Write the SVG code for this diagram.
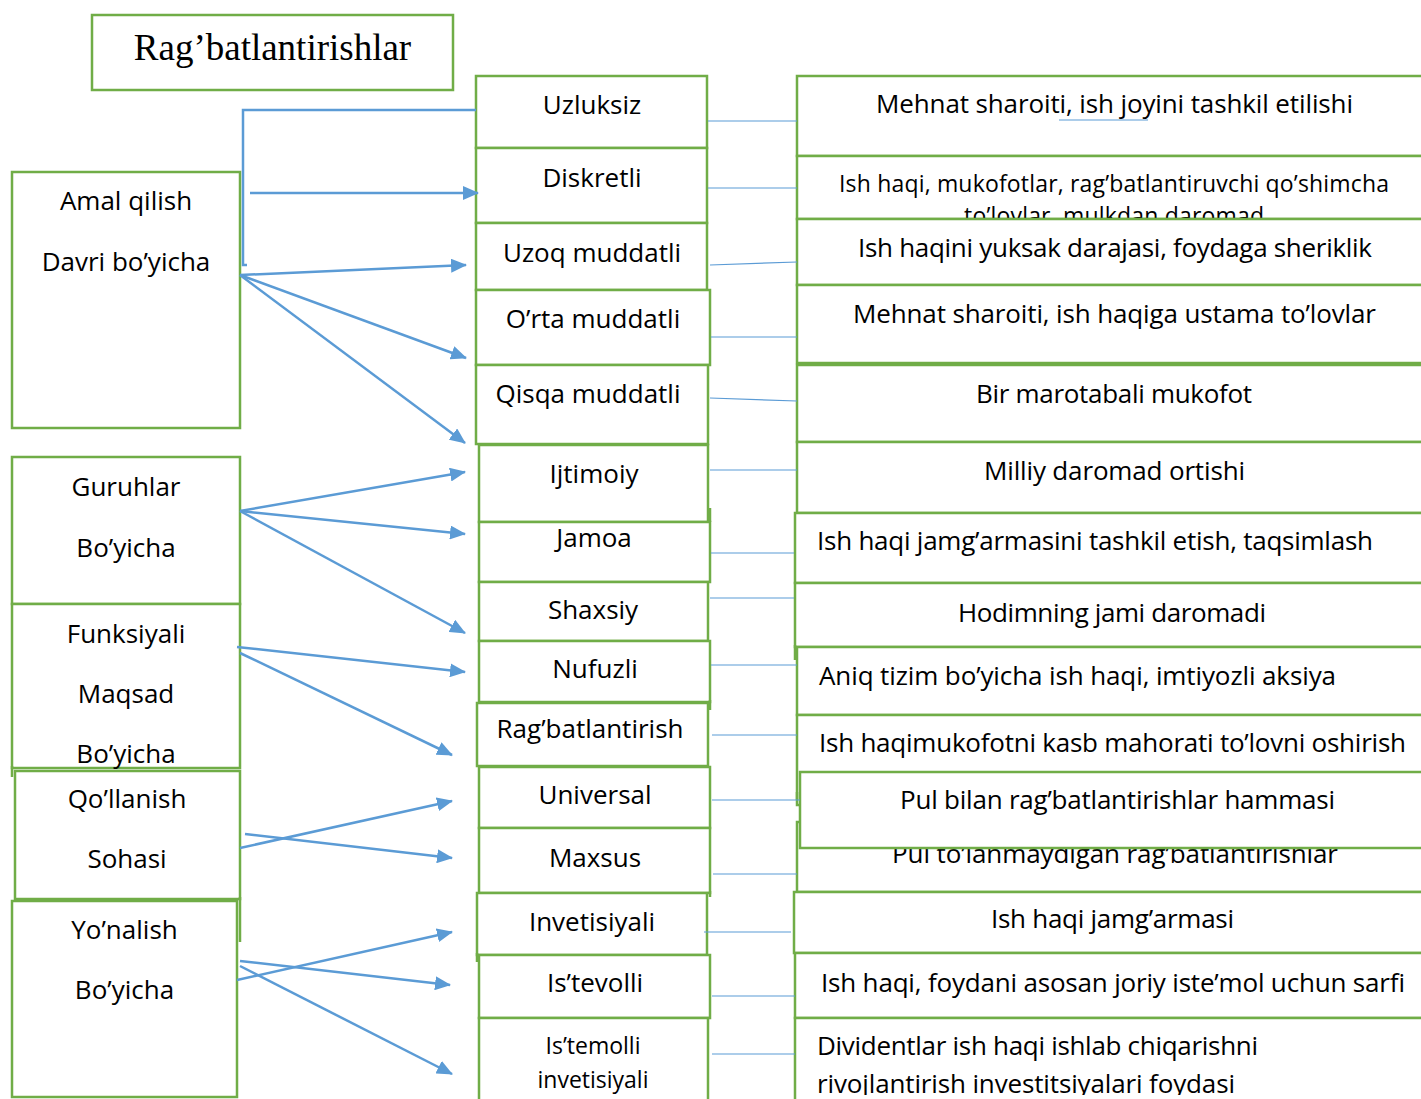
<svg xmlns="http://www.w3.org/2000/svg" width="1421" height="1099" viewBox="0 0 1421 1099">
<style>
.box{fill:#fff;stroke:#70ad47;stroke-width:2.5}
.ln{stroke:#70ad47;stroke-width:2.5;fill:none}
.t{font-family:"Open Sans","Liberation Sans",sans-serif;font-size:26px;fill:#000;text-anchor:middle}
.s{text-anchor:start}
.sm{font-size:23px}
.title{font-family:"Liberation Serif","Times New Roman",serif;font-size:37px;fill:#000;text-anchor:middle}
.arr{stroke:#5b9bd5;stroke-width:2.5;fill:none;marker-end:url(#ah)}
.br{stroke:#5b9bd5;stroke-width:2.5;fill:none}
.thin{stroke:#5b9bd5;stroke-width:1.2;fill:none}
</style>
<defs>
<marker id="ah" viewBox="0 0 16 14" refX="15" refY="7" markerWidth="16" markerHeight="14" markerUnits="userSpaceOnUse" orient="auto">
<path d="M0,0 L16,7 L0,14 z" fill="#5b9bd5"/>
</marker>
<clipPath id="clipBottom"><rect x="0" y="0" width="1421" height="1095"/></clipPath>
</defs>
<rect width="1421" height="1099" fill="#fff"/>

<g id="title"><rect class="box" x="92" y="15" width="361" height="75"/><text class="title" x="272.5" y="60">Rag’batlantirishlar</text></g>

<g id="left-amal"><rect class="box" x="12" y="172" width="228" height="256"/><text class="t" x="126" y="210">Amal qilish</text><text class="t" x="126" y="271">Davri bo’yicha</text></g>
<g id="left-guruhlar"><rect class="box" x="12" y="457" width="228" height="147"/><text class="t" x="126" y="496">Guruhlar</text><text class="t" x="126" y="557">Bo’yicha</text></g>
<g id="left-funksiyali"><rect class="box" x="12" y="604" width="228" height="164"/><line class="ln" x1="12" y1="766" x2="12" y2="777"/><text class="t" x="126" y="643">Funksiyali</text><text class="t" x="126" y="703">Maqsad</text><text class="t" x="126" y="763">Bo’yicha</text></g>
<g id="left-qollanish"><rect class="box" x="15" y="771" width="225" height="128"/><line class="ln" x1="240" y1="897" x2="240" y2="942"/><text class="t" x="127" y="808">Qo’llanish</text><text class="t" x="127" y="868">Sohasi</text></g>
<g id="left-yonalish"><rect class="box" x="12" y="901" width="225" height="196"/><text class="t" x="124.5" y="939">Yo’nalish</text><text class="t" x="124.5" y="999">Bo’yicha</text></g>

<g id="m-uzluksiz"><rect class="box" x="476" y="76" width="231" height="72"/><text class="t" x="592" y="114">Uzluksiz</text></g>
<g id="m-diskretli"><rect class="box" x="476" y="148" width="231" height="75"/><text class="t" x="592" y="187">Diskretli</text></g>
<g id="m-uzoq"><rect class="box" x="476" y="223" width="231" height="67"/><text class="t" x="592" y="262">Uzoq muddatli</text></g>
<g id="m-orta"><rect class="box" x="476" y="290" width="234" height="75"/><text class="t" x="593" y="328">O’rta muddatli</text></g>
<g id="m-qisqa"><rect class="box" x="476" y="365" width="232" height="79"/><text class="t" x="588" y="403">Qisqa muddatli</text></g>
<g id="m-ijtimoiy"><rect class="box" x="479" y="445" width="229" height="77"/><text class="t" x="594" y="483">Ijtimoiy</text></g>
<g id="m-jamoa"><rect class="box" x="479" y="522" width="231" height="60"/><line class="ln" x1="710" y1="508" x2="710" y2="522"/><text class="t" x="594" y="547">Jamoa</text></g>
<g id="m-shaxsiy"><rect class="box" x="479" y="582" width="229" height="59"/><text class="t" x="593" y="619">Shaxsiy</text></g>
<g id="m-nufuzli"><rect class="box" x="479" y="641" width="231" height="61"/><line class="ln" x1="710" y1="700" x2="710" y2="710"/><text class="t" x="595" y="678">Nufuzli</text></g>
<g id="m-ragbat"><rect class="box" x="477" y="703" width="231" height="63"/><text class="t" x="590" y="738">Rag’batlantirish</text></g>
<g id="m-universal"><rect class="box" x="479" y="767" width="231" height="61"/><text class="t" x="595" y="804">Universal</text></g>
<g id="m-maxsus"><rect class="box" x="479" y="828" width="231" height="65"/><line class="ln" x1="710" y1="891" x2="710" y2="897"/><text class="t" x="595" y="867">Maxsus</text></g>
<g id="m-invetisiyali"><rect class="box" x="477" y="893" width="230" height="62"/><line class="ln" x1="477" y1="953" x2="477" y2="962"/><text class="t" x="592" y="931">Invetisiyali</text></g>
<g id="m-istevolli"><rect class="box" x="479" y="955" width="231" height="63"/><text class="t" x="595" y="992">Is’tevolli</text></g>
<g id="m-istemolli"><rect class="box" x="479" y="1018" width="229" height="100"/><text class="t sm" x="593" y="1054">Is’temolli</text><text class="t sm" x="593" y="1088">invetisiyali</text></g>

<g id="r1"><rect class="box" x="797" y="76" width="703" height="80"/><text class="t" x="1114.5" y="113" textLength="477">Mehnat sharoiti, ish joyini tashkil etilishi</text></g>
<g id="r2"><rect class="box" x="797" y="156" width="703" height="63"/><text class="t sm" x="1114" y="192" textLength="550">Ish haqi, mukofotlar, rag’batlantiruvchi qo’shimcha</text><text class="t sm" x="1114" y="224" textLength="300">to’lovlar, mulkdan daromad</text></g>
<g id="r3"><rect class="box" x="797" y="219" width="703" height="66"/><text class="t" x="1115" y="257" textLength="514">Ish haqini yuksak darajasi, foydaga sheriklik</text></g>
<g id="r4"><rect class="box" x="797" y="285" width="703" height="78"/><text class="t" x="1114.5" y="323" textLength="523">Mehnat sharoiti, ish haqiga ustama to’lovlar</text></g>
<g id="r5"><rect class="box" x="797" y="365" width="703" height="77"/><text class="t" x="1114" y="403" textLength="276">Bir marotabali mukofot</text></g>
<g id="r6"><rect class="box" x="797" y="442" width="703" height="71"/><text class="t" x="1114.5" y="480" textLength="261">Milliy daromad ortishi</text></g>
<g id="r7"><rect class="box" x="795" y="513" width="705" height="70"/><text class="t s" x="817" y="550" textLength="556">Ish haqi jamg’armasini tashkil etish, taqsimlash</text></g>
<g id="r8"><rect class="box" x="795" y="583" width="705" height="64"/><line class="ln" x1="795" y1="645" x2="795" y2="660"/><text class="t" x="1112" y="622" textLength="308">Hodimning jami daromadi</text></g>
<g id="r9"><rect class="box" x="797" y="647" width="703" height="68"/><text class="t s" x="819" y="685" textLength="517">Aniq tizim bo’yicha ish haqi, imtiyozli aksiya</text></g>
<g id="r10"><rect class="box" x="797" y="715" width="703" height="90"/><line class="ln" x1="797" y1="800" x2="797" y2="792"/><text class="t s" x="819" y="752" textLength="587">Ish haqimukofotni kasb mahorati to’lovni oshirish</text></g>
<g id="r12"><rect class="box" x="797" y="822" width="703" height="70"/><text class="t" x="1115" y="863" textLength="446">Pul to’lanmaydigan rag’batlantirishlar</text></g>
<g id="r11"><rect class="box" x="800" y="772" width="700" height="76"/><text class="t" x="1117.5" y="809" textLength="435">Pul bilan rag’batlantirishlar hammasi</text></g>
<g id="r13"><rect class="box" x="794" y="892" width="706" height="61"/><text class="t" x="1112.5" y="928" textLength="243">Ish haqi jamg’armasi</text></g>
<g id="r14"><rect class="box" x="795" y="953" width="705" height="65"/><text class="t s" x="821" y="992" textLength="584">Ish haqi, foydani asosan joriy iste’mol uchun sarfi</text></g>
<g id="r15"><rect class="box" x="795" y="1018" width="705" height="100"/><text class="t s" x="817" y="1055" textLength="441">Dividentlar ish haqi ishlab chiqarishni</text><text class="t s" x="817" y="1093" textLength="418" clip-path="url(#clipBottom)">rivojlantirish investitsiyalari foydasi</text></g>

<g id="connectors">
<polyline class="br" points="476,110 243,110 243,265 247,265"/>
<line class="arr" x1="250" y1="193" x2="478" y2="193"/>
<line class="arr" x1="240" y1="275" x2="466" y2="265"/>
<line class="arr" x1="240" y1="275" x2="466" y2="358"/>
<line class="arr" x1="240" y1="275" x2="465" y2="443"/>
<line class="arr" x1="240" y1="511" x2="465" y2="472"/>
<line class="arr" x1="240" y1="511" x2="465" y2="534"/>
<line class="arr" x1="240" y1="511" x2="465" y2="633"/>
<line class="arr" x1="237" y1="647" x2="465" y2="672"/>
<line class="arr" x1="240" y1="653" x2="452" y2="755"/>
<line class="arr" x1="240" y1="848" x2="452" y2="801"/>
<line class="arr" x1="245" y1="834" x2="452" y2="858"/>
<line class="arr" x1="237" y1="980" x2="452" y2="932"/>
<line class="arr" x1="240" y1="961" x2="450" y2="985"/>
<line class="arr" x1="240" y1="966" x2="452" y2="1074"/>
<line class="thin" x1="708" y1="121" x2="797" y2="121"/>
<line class="thin" x1="1059" y1="120" x2="1148" y2="120"/>
<line class="thin" x1="708" y1="188" x2="797" y2="188"/>
<line class="thin" x1="710" y1="265" x2="797" y2="262"/>
<line class="thin" x1="711" y1="337" x2="797" y2="337"/>
<line class="thin" x1="710" y1="398" x2="797" y2="401"/>
<line class="thin" x1="710" y1="470" x2="797" y2="470"/>
<line class="thin" x1="711" y1="553" x2="794" y2="553"/>
<line class="thin" x1="710" y1="598" x2="794" y2="598"/>
<line class="thin" x1="711" y1="665" x2="797" y2="665"/>
<line class="thin" x1="712" y1="735" x2="797" y2="735"/>
<line class="thin" x1="712" y1="800" x2="800" y2="800"/>
<line class="thin" x1="713" y1="874" x2="797" y2="874"/>
<line class="thin" x1="704" y1="932" x2="791" y2="932"/>
<line class="thin" x1="712" y1="996" x2="795" y2="996"/>
<line class="thin" x1="712" y1="1054" x2="795" y2="1054"/>
</g>
</svg>
